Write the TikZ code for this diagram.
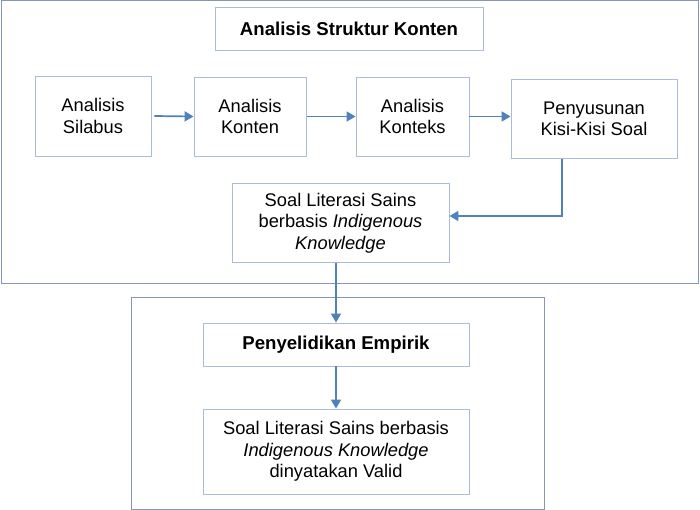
\documentclass[tikz,border=0pt]{standalone}
\usepackage{fontspec}
\setmainfont{Liberation Sans}
\usetikzlibrary{arrows.meta}

\definecolor{arrowblue}{HTML}{4F81BD}
\definecolor{boxline}{HTML}{A9BCDA}
\definecolor{frameline}{HTML}{8797B5}

\begin{document}
\begin{tikzpicture}[%
x=1pt,y=-1pt,
>={Triangle[length=9pt,width=10pt]},
box/.style={draw=boxline,line width=0.9pt,align=center,inner sep=0pt,font=\fontsize{18.3}{21.5}\selectfont},
headbox/.style={box,font=\fontsize{18.6}{21.5}\selectfont\bfseries},
frame/.style={draw=frameline,line width=1pt},
arr/.style={->,draw=arrowblue,line width=1.7pt}
]

\useasboundingbox (0,0) rectangle (700,510);

\draw[frame] (1,1) rectangle (698,283);
\draw[frame] (131,297) rectangle (544,509);

\node[headbox,minimum width=268pt,minimum height=43pt] (title) at (349,28.5) {Analisis Struktur Konten};

\node[box,minimum width=116pt,minimum height=80pt] (silabus) at (93,116) {Analisis\\Silabus};
\node[box,minimum width=112pt,minimum height=79pt] (konten) at (250,116.5) {Analisis\\Konten};
\node[box,minimum width=113pt,minimum height=79pt] (konteks) at (412.5,116.5) {Analisis\\Konteks};
\node[box,minimum width=166pt,minimum height=78.5pt] (kisi) at (594,119) {Penyusunan\\Kisi-Kisi Soal};
\node[box,minimum width=217pt,minimum height=78.5pt] (soal) at (340.5,223) {Soal Literasi Sains\\berbasis \textit{Indigenous}\\\textit{Knowledge}};

\node[headbox,minimum width=266pt,minimum height=43pt] (empirik) at (336,344.5) {Penyelidikan Empirik};
\node[box,minimum width=266pt,minimum height=85pt] (valid) at (336,451.5) {Soal Literasi Sains berbasis\\\textit{Indigenous Knowledge}\\dinyatakan Valid};

\draw[arr] ([xshift=3pt]silabus.east) -- (konten.west);
\draw[arr] ([xshift=1pt]konten.east) -- (konteks.west);
\draw[arr] (konteks.east) -- (kisi.west |- konteks.east);
\draw[arr] ([xshift=-32pt]kisi.south) |- ([yshift=7pt]soal.east);
\draw[arr] (empirik.north |- soal.south) -- (empirik.north);
\draw[arr] (empirik.south) -- (valid.north);

\end{tikzpicture}
\end{document}
